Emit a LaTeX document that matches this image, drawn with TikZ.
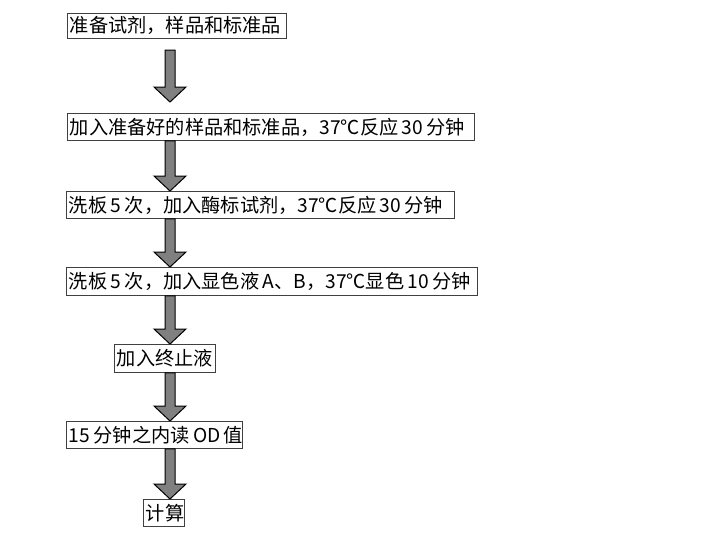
\documentclass[tikz,border=0pt]{standalone}
\usepackage{fontspec}
\setmainfont[WordSpace=0.8]{Noto Sans CJK SC}
\usetikzlibrary{calc}
\tikzset{
  procbox/.style={draw=black!75, line width=0.8pt, inner xsep=2.5pt, inner ysep=0pt,
    anchor=north west, font=\fontsize{19.2}{22}\selectfont, text=black},
  bigarrow/.style={fill=black!50, draw=black, line width=1pt, line join=miter}
}
\newcommand\stepnode[6]{%
  \node[procbox, minimum height=#5pt] (#1) at (#2,#3)
    {\makebox[\dimexpr#4pt-5pt\relax][l]{#6}};}
\newcommand\fatarrow[2]{%
  \path[bigarrow] let \p1=(#1), \p2=(#2) in
    (\x1-5pt,\y1) -- (\x1-5pt,\y2+15pt) -- (\x1-16pt,\y2+15pt) -- (\x1,\y2)
    -- (\x1+16pt,\y2+15pt) -- (\x1+5pt,\y2+15pt) -- (\x1+5pt,\y1) -- cycle;}
\begin{document}
\begin{tikzpicture}[x=1pt,y=-1pt]
\useasboundingbox (0,0) rectangle (720,544);
\stepnode{b1}{67}{13}{219}{25}{准备试剂，样品和标准品}
\stepnode{b2}{67}{113}{407}{27}{加入准备好的样品和标准品，37℃反应 30 分钟}
\stepnode{b3}{66}{191}{388}{27}{洗板 5 次，加入酶标试剂，37℃反应 30 分钟}
\stepnode{b4}{66}{267}{411}{28}{洗板 5 次，加入显色液 A、B，37℃显色 10 分钟}
\stepnode{b5}{114}{344}{101}{28}{加入终止液}
\stepnode{b6}{66}{421}{176}{27}{15 分钟之内读 OD 值}
\stepnode{b7}{143}{499}{41}{27}{计算}
\coordinate (ax) at (170,0);
\coordinate (a1s) at (170,50);
\coordinate (a1e) at (170,102);
\fatarrow{a1s}{a1e}
\fatarrow{ax |- b2.south}{ax |- b3.north}
\fatarrow{ax |- b3.south}{ax |- b4.north}
\fatarrow{ax |- b4.south}{ax |- b5.north}
\fatarrow{ax |- b5.south}{ax |- b6.north}
\fatarrow{ax |- b6.south}{ax |- b7.north}
\end{tikzpicture}
\end{document}
